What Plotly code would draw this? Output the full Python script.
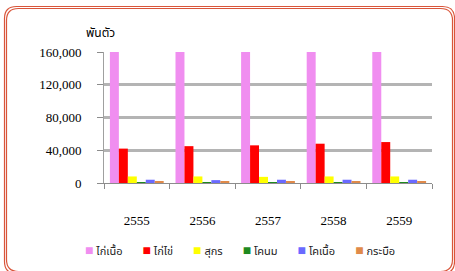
import plotly.graph_objects as go

years = ["2555", "2556", "2557", "2558", "2559"]
series_names = ["ไก่เนื้อ", "ไก่ไข่", "สุกร", "โคนม", "โคเนื้อ", "กระบือ"]
broiler = [160000, 160000, 160000, 160000, 160000]
layer = [42000, 45000, 46000, 48000, 50000]
swine = [8000, 8000, 7500, 8000, 8000]
dairy = [700, 700, 700, 700, 700]
beef = [4000, 3500, 4000, 4000, 4000]
buffalo = [1500, 1500, 1500, 1500, 1500]
series_values = [broiler, layer, swine, dairy, beef, buffalo]
colors = ["#f08ef0", "#ff0000", "#ffff00", "#1f8a1f", "#6a6aff", "#e08a4a"]
y_ticks = [0, 40000, 80000, 120000, 160000]
y_tick_labels = ["0", "40,000", "80,000", "120,000", "160,000"]
unit_label = "พันตัว"

serif = "'Liberation Serif', serif"
thai = "'Noto Sans Thai', 'Noto Serif Thai', 'Liberation Serif', serif"

fig = go.Figure()
for name, vals, col in zip(series_names, series_values, colors):
    fig.add_trace(go.Bar(x=years, y=vals, name=name, marker=dict(color=col, line=dict(width=0))))

W, H = 455, 271
ML, MR, MT, MB = 104, 23, 52, 88
fig.update_layout(
    width=W, height=H,
    margin=dict(l=ML, r=MR, t=MT, b=MB),
    paper_bgcolor="white", plot_bgcolor="white",
    barmode="group", bargap=0.18, bargroupgap=0.0,
    showlegend=False,
    font=dict(family=serif, size=13, color="black"),
)
fig.update_xaxes(
    showgrid=False, showline=True, linecolor="#8c8c8c", linewidth=1,
    ticks="outside", ticklen=5, tickcolor="#8c8c8c", tickson="boundaries",
    ticklabelstandoff=25, tickfont=dict(family=serif, size=13, color="black"),
)
fig.update_yaxes(
    range=[0, 160000], tickvals=y_ticks, ticktext=y_tick_labels,
    showgrid=True, gridcolor="#b4b4b4", gridwidth=3,
    showline=True, linecolor="#a0a0a0", linewidth=1,
    ticks="outside", ticklen=6, tickcolor="#8c8c8c", ticklabelstandoff=13,
    zeroline=False, tickfont=dict(family=serif, size=13, color="black"),
)

pw, ph = W - ML - MR, H - MT - MB
def px(x):
    return (x - ML) / pw
def py(y):
    return (H - MB - y) / ph

fig.add_annotation(text=unit_label, xref="paper", yref="paper", x=px(100), y=py(33),
                   xanchor="center", yanchor="middle", showarrow=False,
                   font=dict(family=thai, size=12, color="black"))

# legend built from the series names and colours
gap = "&nbsp;" * 7
legend_text = gap.join(
    f"<span style='color:{c};font-size:14px'>■</span>&nbsp;{n}" for n, c in zip(series_names, colors)
)
fig.add_annotation(text=legend_text, xref="paper", yref="paper", x=px(240), y=py(250),
                   xanchor="center", yanchor="middle", showarrow=False,
                   font=dict(family=thai, size=11, color="#222"))

# rounded double border
def rrect(x0, y0, x1, y1, r):
    return (f"M {px(x0 + r)},{py(y0)} L {px(x1 - r)},{py(y0)} Q {px(x1)},{py(y0)} {px(x1)},{py(y0 + r)} "
            f"L {px(x1)},{py(y1 - r)} Q {px(x1)},{py(y1)} {px(x1 - r)},{py(y1)} "
            f"L {px(x0 + r)},{py(y1)} Q {px(x0)},{py(y1)} {px(x0)},{py(y1 - r)} "
            f"L {px(x0)},{py(y0 + r)} Q {px(x0)},{py(y0)} {px(x0 + r)},{py(y0)} Z")
for off in (0, 2):
    fig.add_shape(type="path", xref="paper", yref="paper",
                  path=rrect(4.5 + off, 6.5 + off, 454.5 - off, 273.5 - off, 12),
                  line=dict(color="#d9553a", width=1.2), layer="above")

fig.write_html("out.html", config={"displayModeBar": False},
               post_script="document.body.style.margin='0';document.body.style.overflow='hidden';")
